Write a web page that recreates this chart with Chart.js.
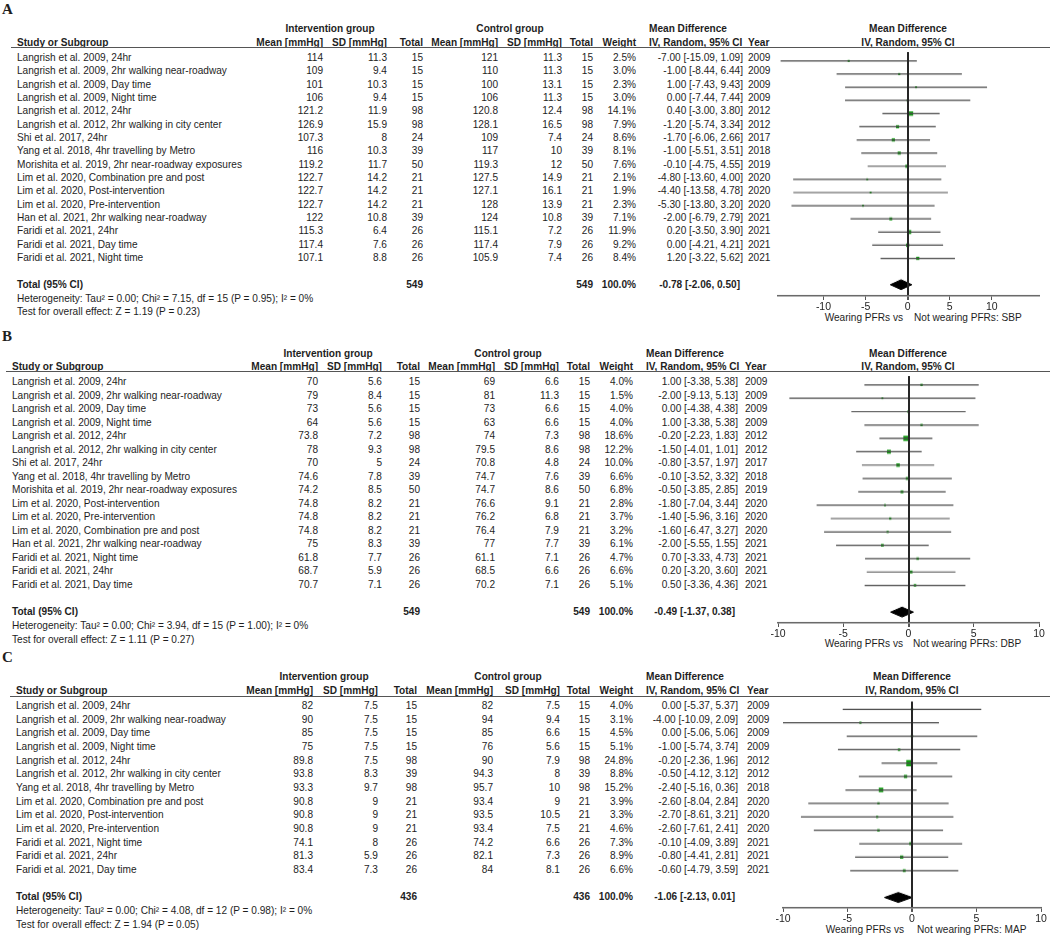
<!DOCTYPE html>
<html>
<head>
<meta charset="utf-8">
<script src="https://cdn.jsdelivr.net/npm/chart.js@4.4.0/dist/chart.umd.min.js"></script>
<style>
body { margin: 0; background: #fff; }
#page { position: relative; width: 1050px; height: 937px; overflow: hidden;
        font-family: "Liberation Sans", Arial, sans-serif; font-size: 10.1px; color: #1e1e1e; }
.t { position: absolute; white-space: nowrap; line-height: 13px; z-index: 1; }
.b { font-weight: bold; }
.tag { font-family: "Liberation Serif", "Times New Roman", serif; font-weight: bold; font-size: 15px; }
.rule { position: absolute; height: 0; border-top: 1.5px solid #555; z-index: 1; }
.plot { position: absolute; z-index: 3; }
</style>
</head>
<body>
<div id="page"></div>
<script>
// ---- A: systolic blood pressure ----
var sbpStudy = ['Langrish et al. 2009, 24hr', 'Langrish et al. 2009, 2hr walking near-roadway',
    'Langrish et al. 2009, Day time', 'Langrish et al. 2009, Night time', 'Langrish et al. 2012, 24hr',
    'Langrish et al. 2012, 2hr walking in city center', 'Shi et al. 2017, 24hr',
    'Yang et al. 2018, 4hr travelling by Metro', 'Morishita et al. 2019, 2hr near-roadway exposures',
    'Lim et al. 2020, Combination pre and post', 'Lim et al. 2020, Post-intervention',
    'Lim et al. 2020, Pre-intervention', 'Han et al. 2021, 2hr walking near-roadway',
    'Faridi et al. 2021, 24hr', 'Faridi et al. 2021, Day time', 'Faridi et al. 2021, Night time'];
var sbpIntMean = [114, 109, 101, 106, 121.2, 126.9, 107.3, 116, 119.2, 122.7, 122.7, 122.7, 122, 115.3, 117.4, 107.1];
var sbpIntSD   = [11.3, 9.4, 10.3, 9.4, 11.9, 15.9, 8, 10.3, 11.7, 14.2, 14.2, 14.2, 10.8, 6.4, 7.6, 8.8];
var sbpIntN    = [15, 15, 15, 15, 98, 98, 24, 39, 50, 21, 21, 21, 39, 26, 26, 26];
var sbpCtlMean = [121, 110, 100, 106, 120.8, 128.1, 109, 117, 119.3, 127.5, 127.1, 128, 124, 115.1, 117.4, 105.9];
var sbpCtlSD   = [11.3, 11.3, 13.1, 11.3, 12.4, 16.5, 7.4, 10, 12, 14.9, 16.1, 13.9, 10.8, 7.2, 7.9, 7.4];
var sbpCtlN    = [15, 15, 15, 15, 98, 98, 24, 39, 50, 21, 21, 21, 39, 26, 26, 26];
var sbpWeight  = [2.5, 3.0, 2.3, 3.0, 14.1, 7.9, 8.6, 8.1, 7.6, 2.1, 1.9, 2.3, 7.1, 11.9, 9.2, 8.4];
var sbpMD      = [-7.00, -1.00, 1.00, 0.00, 0.40, -1.20, -1.70, -1.00, -0.10, -4.80, -4.40, -5.30, -2.00, 0.20, 0.00, 1.20];
var sbpLo      = [-15.09, -8.44, -7.43, -7.44, -3.00, -5.74, -6.06, -5.51, -4.75, -13.60, -13.58, -13.80, -6.79, -3.50, -4.21, -3.22];
var sbpHi      = [1.09, 6.44, 9.43, 7.44, 3.80, 3.34, 2.66, 3.51, 4.55, 4.00, 4.78, 3.20, 2.79, 3.90, 4.21, 5.62];
var sbpYear    = [2009, 2009, 2009, 2009, 2012, 2012, 2017, 2018, 2019, 2020, 2020, 2020, 2021, 2021, 2021, 2021];
var sbpTotal   = [549, 549, -0.78, -2.06, 0.50];
var sbpHet     = 'Heterogeneity: Tau\u00b2 = 0.00; Chi\u00b2 = 7.15, df = 15 (P = 0.95); I\u00b2 = 0%';
var sbpTest    = 'Test for overall effect: Z = 1.19 (P = 0.23)';

// ---- B: diastolic blood pressure ----
var dbpStudy = ['Langrish et al. 2009, 24hr', 'Langrish et al. 2009, 2hr walking near-roadway',
    'Langrish et al. 2009, Day time', 'Langrish et al. 2009, Night time', 'Langrish et al. 2012, 24hr',
    'Langrish et al. 2012, 2hr walking in city center', 'Shi et al. 2017, 24hr',
    'Yang et al. 2018, 4hr travelling by Metro', 'Morishita et al. 2019, 2hr near-roadway exposures',
    'Lim et al. 2020, Post-intervention', 'Lim et al. 2020, Pre-intervention',
    'Lim et al. 2020, Combination pre and post', 'Han et al. 2021, 2hr walking near-roadway',
    'Faridi et al. 2021, Night time', 'Faridi et al. 2021, 24hr', 'Faridi et al. 2021, Day time'];
var dbpIntMean = [70, 79, 73, 64, 73.8, 78, 70, 74.6, 74.2, 74.8, 74.8, 74.8, 75, 61.8, 68.7, 70.7];
var dbpIntSD   = [5.6, 8.4, 5.6, 5.6, 7.2, 9.3, 5, 7.8, 8.5, 8.2, 8.2, 8.2, 8.3, 7.7, 5.9, 7.1];
var dbpIntN    = [15, 15, 15, 15, 98, 98, 24, 39, 50, 21, 21, 21, 39, 26, 26, 26];
var dbpCtlMean = [69, 81, 73, 63, 74, 79.5, 70.8, 74.7, 74.7, 76.6, 76.2, 76.4, 77, 61.1, 68.5, 70.2];
var dbpCtlSD   = [6.6, 11.3, 6.6, 6.6, 7.3, 8.6, 4.8, 7.6, 8.6, 9.1, 6.8, 7.9, 7.7, 7.1, 6.6, 7.1];
var dbpCtlN    = [15, 15, 15, 15, 98, 98, 24, 39, 50, 21, 21, 21, 39, 26, 26, 26];
var dbpWeight  = [4.0, 1.5, 4.0, 4.0, 18.6, 12.2, 10.0, 6.6, 6.8, 2.8, 3.7, 3.2, 6.1, 4.7, 6.6, 5.1];
var dbpMD      = [1.00, -2.00, 0.00, 1.00, -0.20, -1.50, -0.80, -0.10, -0.50, -1.80, -1.40, -1.60, -2.00, 0.70, 0.20, 0.50];
var dbpLo      = [-3.38, -9.13, -4.38, -3.38, -2.23, -4.01, -3.57, -3.52, -3.85, -7.04, -5.96, -6.47, -5.55, -3.33, -3.20, -3.36];
var dbpHi      = [5.38, 5.13, 4.38, 5.38, 1.83, 1.01, 1.97, 3.32, 2.85, 3.44, 3.16, 3.27, 1.55, 4.73, 3.60, 4.36];
var dbpYear    = [2009, 2009, 2009, 2009, 2012, 2012, 2017, 2018, 2019, 2020, 2020, 2020, 2021, 2021, 2021, 2021];
var dbpTotal   = [549, 549, -0.49, -1.37, 0.38];
var dbpHet     = 'Heterogeneity: Tau\u00b2 = 0.00; Chi\u00b2 = 3.94, df = 15 (P = 1.00); I\u00b2 = 0%';
var dbpTest    = 'Test for overall effect: Z = 1.11 (P = 0.27)';

// ---- C: mean arterial pressure ----
var mapStudy = ['Langrish et al. 2009, 24hr', 'Langrish et al. 2009, 2hr walking near-roadway',
    'Langrish et al. 2009, Day time', 'Langrish et al. 2009, Night time', 'Langrish et al. 2012, 24hr',
    'Langrish et al. 2012, 2hr walking in city center', 'Yang et al. 2018, 4hr travelling by Metro',
    'Lim et al. 2020, Combination pre and post', 'Lim et al. 2020, Post-intervention',
    'Lim et al. 2020, Pre-intervention', 'Faridi et al. 2021, Night time',
    'Faridi et al. 2021, 24hr', 'Faridi et al. 2021, Day time'];
var mapIntMean = [82, 90, 85, 75, 89.8, 93.8, 93.3, 90.8, 90.8, 90.8, 74.1, 81.3, 83.4];
var mapIntSD   = [7.5, 7.5, 7.5, 7.5, 7.5, 8.3, 9.7, 9, 9, 9, 8, 5.9, 7.3];
var mapIntN    = [15, 15, 15, 15, 98, 39, 98, 21, 21, 21, 26, 26, 26];
var mapCtlMean = [82, 94, 85, 76, 90, 94.3, 95.7, 93.4, 93.5, 93.4, 74.2, 82.1, 84];
var mapCtlSD   = [7.5, 9.4, 6.6, 5.6, 7.9, 8, 10, 9, 10.5, 7.5, 6.6, 7.3, 8.1];
var mapCtlN    = [15, 15, 15, 15, 98, 39, 98, 21, 21, 21, 26, 26, 26];
var mapWeight  = [4.0, 3.1, 4.5, 5.1, 24.8, 8.8, 15.2, 3.9, 3.3, 4.6, 7.3, 8.9, 6.6];
var mapMD      = [0.00, -4.00, 0.00, -1.00, -0.20, -0.50, -2.40, -2.60, -2.70, -2.60, -0.10, -0.80, -0.60];
var mapLo      = [-5.37, -10.09, -5.06, -5.74, -2.36, -4.12, -5.16, -8.04, -8.61, -7.61, -4.09, -4.41, -4.79];
var mapHi      = [5.37, 2.09, 5.06, 3.74, 1.96, 3.12, 0.36, 2.84, 3.21, 2.41, 3.89, 2.81, 3.59];
var mapYear    = [2009, 2009, 2009, 2009, 2012, 2012, 2018, 2020, 2020, 2020, 2021, 2021, 2021];
var mapTotal   = [436, 436, -1.06, -2.13, 0.01];
var mapHet     = 'Heterogeneity: Tau\u00b2 = 0.00; Chi\u00b2 = 4.08, df = 12 (P = 0.98); I\u00b2 = 0%';
var mapTest    = 'Test for overall effect: Z = 1.94 (P = 0.05)';

var axisTicks = [-10, -5, 0, 5, 10];

var tickFont = 10.5;
Chart.defaults.font.family = '"Liberation Sans", Arial, sans-serif';
Chart.defaults.font.size = tickFont;
Chart.defaults.color = '#1e1e1e';

var page = document.getElementById('page');

function txt(s, x, y, align, cls) {
    var d = document.createElement('div');
    d.className = 't' + (cls ? ' ' + cls : '');
    d.textContent = s;
    d.style.left = x + 'px';
    d.style.top = y + 'px';
    var tx = align == 'r' ? '-100%' : (align == 'c' ? '-50%' : '0');
    d.style.transform = 'translate(' + tx + ',-50%)';
    page.appendChild(d);
}

function ciText(m, lo, hi) {
    return m.toFixed(2) + ' [' + lo.toFixed(2) + ', ' + hi.toFixed(2) + ']';
}

// page layout of each panel (pixels)
var layouts = [
    { tag: 'A', tagY: 9, grpY: 28, headY: 42, rule: 48, y0: 57, step: 13.33, axisY: 295,
      cols: [17, 323, 387, 423, 498, 562, 593, 636, 743, 748], mdLeft: 649, grpInt: 330, grpCtl: 510,
      plotL: 778, plotR: 1039, xmin: -15.4, xmax: 15.6, zero: 908, lblY: 317, lblL: 903, lblR: 914, outcome: 'SBP' },
    { tag: 'B', tagY: 336, grpY: 353, headY: 366, rule: 372, y0: 381, step: 13.53, axisY: 622,
      cols: [12, 318, 382, 420, 495, 559, 590, 633, 738, 745], mdLeft: 646, grpInt: 328, grpCtl: 508,
      plotL: 778, plotR: 1039, xmin: -10, xmax: 10, zero: 908, lblY: 643, lblL: 903, lblR: 913, outcome: 'DBP' },
    { tag: 'C', tagY: 657, grpY: 676, headY: 690, rule: 697, y0: 705, step: 13.67, axisY: 907,
      cols: [16, 313, 378, 417, 493, 560, 590, 633, 738, 747], mdLeft: 646, grpInt: 324, grpCtl: 508,
      plotL: 783, plotR: 1041, xmin: -10, xmax: 10, zero: 912, lblY: 929, lblL: 904, lblR: 917, outcome: 'MAP' }
];

var panels = [
    { study: sbpStudy, im: sbpIntMean, isd: sbpIntSD, inn: sbpIntN, cm: sbpCtlMean, csd: sbpCtlSD, cn: sbpCtlN,
      w: sbpWeight, md: sbpMD, lo: sbpLo, hi: sbpHi, year: sbpYear, total: sbpTotal, het: sbpHet, test: sbpTest },
    { study: dbpStudy, im: dbpIntMean, isd: dbpIntSD, inn: dbpIntN, cm: dbpCtlMean, csd: dbpCtlSD, cn: dbpCtlN,
      w: dbpWeight, md: dbpMD, lo: dbpLo, hi: dbpHi, year: dbpYear, total: dbpTotal, het: dbpHet, test: dbpTest },
    { study: mapStudy, im: mapIntMean, isd: mapIntSD, inn: mapIntN, cm: mapCtlMean, csd: mapCtlSD, cn: mapCtlN,
      w: mapWeight, md: mapMD, lo: mapLo, hi: mapHi, year: mapYear, total: mapTotal, het: mapHet, test: mapTest }
];

function drawTable(L, D) {
    var c = L.cols;
    txt(L.tag, 2, L.tagY, 'l', 'tag');
    txt('Intervention group', L.grpInt, L.grpY, 'c', 'b');
    txt('Control group', L.grpCtl, L.grpY, 'c', 'b');
    txt('Mean Difference', L.mdLeft, L.grpY, 'l', 'b');
    txt('Mean Difference', L.zero, L.grpY, 'c', 'b');
    txt('Study or Subgroup', c[0], L.headY, 'l', 'b');
    txt('Mean [mmHg]', c[1], L.headY, 'r', 'b');
    txt('SD [mmHg]', c[2], L.headY, 'r', 'b');
    txt('Total', c[3], L.headY, 'r', 'b');
    txt('Mean [mmHg]', c[4], L.headY, 'r', 'b');
    txt('SD [mmHg]', c[5], L.headY, 'r', 'b');
    txt('Total', c[6], L.headY, 'r', 'b');
    txt('Weight', c[7], L.headY, 'r', 'b');
    txt('IV, Random, 95% CI', L.mdLeft, L.headY, 'l', 'b');
    txt('Year', c[9], L.headY, 'l', 'b');
    txt('IV, Random, 95% CI', L.zero, L.headY, 'c', 'b');

    var r = document.createElement('div');
    r.className = 'rule';
    r.style.left = (c[0] - 6) + 'px';
    r.style.top = (L.rule - 1) + 'px';
    r.style.width = (1050 - c[0] + 6) + 'px';
    page.appendChild(r);

    for (var i = 0; i < D.study.length; i++) {
        var y = L.y0 + i * L.step;
        txt(D.study[i], c[0], y, 'l');
        txt(String(D.im[i]), c[1], y, 'r');
        txt(String(D.isd[i]), c[2], y, 'r');
        txt(String(D.inn[i]), c[3], y, 'r');
        txt(String(D.cm[i]), c[4], y, 'r');
        txt(String(D.csd[i]), c[5], y, 'r');
        txt(String(D.cn[i]), c[6], y, 'r');
        txt(D.w[i].toFixed(1) + '%', c[7], y, 'r');
        txt(ciText(D.md[i], D.lo[i], D.hi[i]), c[8], y, 'r');
        txt(String(D.year[i]), c[9], y, 'l');
    }
    var ty = L.y0 + (D.study.length + 1) * L.step;
    txt('Total (95% CI)', c[0], ty, 'l', 'b');
    txt(String(D.total[0]), c[3], ty, 'r', 'b');
    txt(String(D.total[1]), c[6], ty, 'r', 'b');
    txt('100.0%', c[7], ty, 'r', 'b');
    txt(ciText(D.total[2], D.total[3], D.total[4]), c[8] - 3, ty, 'r', 'b');
    txt(D.het, c[0], ty + 14, 'l');
    txt(D.test, c[0], ty + 27.5, 'l');

    txt('Wearing PFRs vs', L.lblL, L.lblY, 'r');
    txt('Not wearing PFRs: ' + L.outcome, L.lblR, L.lblY, 'l');
}

function drawPlot(L, D) {
    var n = D.md.length;
    var totRow = n + 1;
    var padL = 10, padR = 10;
    var axisH = 4 + tickFont * 1.2 + 2;   // tick mark + label line + label padding
    var yMin = -(L.y0 - L.rule) / L.step;
    var yMax = (L.axisY - L.y0) / L.step;
    var box = document.createElement('div');
    box.className = 'plot';
    box.style.left = (L.plotL - padL) + 'px';
    box.style.top = L.rule + 'px';
    box.style.width = (L.plotR - L.plotL + padL + padR) + 'px';
    box.style.height = (L.axisY - L.rule + axisH) + 'px';
    var cv = document.createElement('canvas');
    box.appendChild(cv);
    page.appendChild(box);

    var t = D.total;
    var sets = [];
    // summary diamond: upper half filled down to the lower half
    sets.push({
        type: 'line',
        data: [{ x: t[3], y: totRow }, { x: t[2], y: totRow - 0.37 }, { x: t[4], y: totRow }],
        fill: '+1', backgroundColor: '#000', borderColor: '#000', borderWidth: 1, pointRadius: 0
    });
    sets.push({
        type: 'line',
        data: [{ x: t[3], y: totRow }, { x: t[2], y: totRow + 0.37 }, { x: t[4], y: totRow }],
        backgroundColor: '#000', borderColor: '#000', borderWidth: 1, pointRadius: 0
    });
    for (var i = 0; i < n; i++) {
        sets.push({
            type: 'line',
            data: [{ x: D.lo[i], y: i }, { x: D.hi[i], y: i }],
            borderColor: '#4a4a4a', borderWidth: 1.2, pointRadius: 0
        });
    }
    sets.push({
        type: 'scatter',
        data: D.md.map(function(m, k) { return { x: m, y: k }; }),
        pointStyle: 'rect',
        pointRadius: D.w.map(function(w) { return (1.6 + 0.19 * w) / 1.414; }),
        backgroundColor: '#119a11', borderColor: '#119a11', borderWidth: 0
    });

    new Chart(cv, {
        type: 'scatter',
        data: { datasets: sets },
        options: {
            responsive: true,
            maintainAspectRatio: false,
            animation: false,
            events: [],
            layout: { padding: { left: padL, right: padR, top: 0, bottom: 0 } },
            plugins: { legend: { display: false }, tooltip: { enabled: false } },
            scales: {
                x: {
                    type: 'linear',
                    min: L.xmin,
                    max: L.xmax,
                    afterBuildTicks: function(s) {
                        s.ticks = axisTicks.map(function(v) { return { value: v }; });
                    },
                    grid: {
                        // only the line of no effect is drawn across the plot
                        color: function(ctx) {
                            return ctx.tick && ctx.tick.value === 0 ? '#262626' : 'rgba(255,255,255,0)';
                        },
                        lineWidth: function(ctx) {
                            return ctx.tick && ctx.tick.value === 0 ? 2 : 1;
                        },
                        tickColor: '#555',
                        tickLength: 4,
                        z: 1
                    },
                    border: { color: '#666', width: 1.5 },
                    ticks: { padding: 1, maxRotation: 0, autoSkip: false, color: '#1e1e1e' }
                },
                y: {
                    display: false,
                    reverse: true,
                    min: yMin,
                    max: yMax
                }
            }
        }
    });
}

for (var p = 0; p < layouts.length; p++) {
    drawTable(layouts[p], panels[p]);
    drawPlot(layouts[p], panels[p]);
}
</script>
</body>
</html>
